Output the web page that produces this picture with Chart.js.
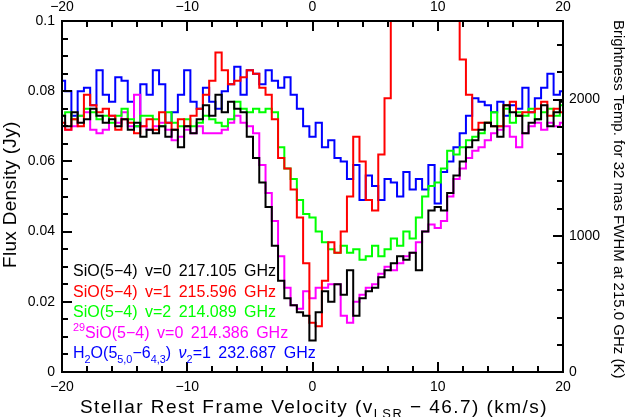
<!DOCTYPE html>
<html><head><meta charset="utf-8">
<script src="https://cdn.jsdelivr.net/npm/chart.js@4.4.1/dist/chart.umd.min.js"></script>
<style>html,body{margin:0;padding:0;background:#fff;}#wrap{width:626px;height:417px;}</style>
</head><body><div id="wrap"><canvas id="c" width="626" height="417"></canvas></div>
<script>
// Velocity channels (km/s), stellar rest frame
const velocity = [-20,-19.5,-19,-18.5,-18,-17.5,-17,-16.5,-16,-15.5,-15,-14.5,-14,-13.5,-13,-12.5,-12,-11.5,-11,-10.5,
  -10,-9.5,-9,-8.5,-8,-7.5,-7,-6.5,-6,-5.5,-5,-4.5,-4,-3.5,-3,-2.5,-2,-1.5,-1,-0.5,
  0,0.5,1,1.5,2,2.5,3,3.5,4,4.5,5,5.5,6,6.5,7,7.5,8,8.5,9,9.5,
  10,10.5,11,11.5,12,12.5,13,13.5,14,14.5,15,15.5,16,16.5,17,17.5,18,18.5,19,19.5,20];

// Flux density (Jy)
const sio_v0 = [0.073,0.070,0.074,0.071,0.072,0.075,0.073,0.071,0.072,0.070,0.072,0.069,0.071,0.067,0.069,0.068,0.070,0.067,0.069,0.064,
  0.070,0.068,0.072,0.076,0.073,0.079,0.074,0.077,0.075,0.074,0.067,0.061,0.054,0.047,0.036,0.026,0.021,0.019,0.017,0.016,
  0.009,0.017,0.023,0.020,0.025,0.022,0.029,0.016,0.021,0.023,0.024,0.027,0.029,0.031,0.033,0.032,0.034,0.029,0.040,0.046,
  0.047,0.046,0.051,0.056,0.060,0.064,0.066,0.069,0.071,0.070,0.067,0.076,0.074,0.073,0.068,0.071,0.072,0.076,0.070,0.074,0.077];
const sio_v1 = [0.071,0.069,0.072,0.070,0.079,0.076,0.074,0.075,0.073,0.069,0.072,0.071,0.068,0.070,0.072,0.069,0.074,0.071,0.069,0.072,
  0.070,0.073,0.075,0.079,0.083,0.091,0.086,0.082,0.083,0.084,0.086,0.085,0.081,0.079,0.072,0.061,0.058,0.052,0.044,0.031,
  0.014,0.013,0.026,0.037,0.034,0.040,0.050,0.067,0.060,0.049,0.046,0.062,0.078,0.105,0.130,0.130,0.130,0.130,0.130,0.130,
  0.130,0.130,0.130,0.105,0.089,0.079,0.069,0.071,0.071,0.070,0.070,0.076,0.077,0.073,0.074,0.074,0.075,0.077,0.073,0.075,0.074];
const sio_v2 = [0.073,0.074,0.072,0.073,0.075,0.074,0.072,0.073,0.071,0.073,0.075,0.072,0.070,0.073,0.073,0.072,0.070,0.074,0.071,0.070,
  0.072,0.070,0.071,0.073,0.072,0.071,0.070,0.072,0.077,0.075,0.074,0.075,0.074,0.075,0.074,0.064,0.058,0.055,0.049,0.045,
  0.044,0.040,0.037,0.035,0.034,0.036,0.034,0.035,0.032,0.033,0.036,0.033,0.035,0.038,0.036,0.040,0.038,0.044,0.050,0.053,
  0.054,0.058,0.063,0.062,0.064,0.066,0.067,0.068,0.071,0.074,0.070,0.075,0.071,0.074,0.073,0.075,0.072,0.074,0.075,0.073,0.076];
const si29o_v0 = [0.070,0.069,0.070,0.073,0.074,0.069,0.068,0.069,0.073,0.071,0.074,0.070,0.079,0.070,0.069,0.070,0.071,0.069,0.066,0.067,
  0.069,0.068,0.070,0.068,0.068,0.068,0.069,0.071,0.073,0.071,0.070,0.068,0.059,0.051,0.043,0.033,0.024,0.019,0.018,0.023,
  0.021,0.024,0.024,0.025,0.025,0.016,0.014,0.020,0.022,0.024,0.025,0.028,0.030,0.029,0.031,0.033,0.034,0.037,0.040,0.042,
  0.041,0.043,0.050,0.055,0.058,0.061,0.063,0.064,0.066,0.068,0.069,0.070,0.067,0.064,0.068,0.070,0.071,0.069,0.071,0.070,0.071];
const h2o_v2 = [0.083,0.080,0.073,0.080,0.081,0.076,0.086,0.079,0.077,0.084,0.083,0.077,0.070,0.082,0.079,0.086,0.082,0.071,0.074,0.079,
  0.086,0.077,0.075,0.081,0.077,0.075,0.080,0.082,0.087,0.079,0.086,0.085,0.082,0.086,0.083,0.081,0.084,0.079,0.075,0.070,
  0.067,0.071,0.064,0.066,0.061,0.060,0.055,0.059,0.049,0.056,0.053,0.049,0.055,0.054,0.050,0.057,0.052,0.055,0.052,0.059,
  0.048,0.057,0.060,0.064,0.068,0.073,0.078,0.077,0.076,0.074,0.077,0.073,0.076,0.075,0.081,0.074,0.078,0.081,0.085,0.079,0.080];

// Axis ticks and labels
const xTickValues = [-20,-18,-16,-14,-12,-10,-8,-6,-4,-2,0,2,4,6,8,10,12,14,16,18,20];
const xMajorTicks = [-20, -10, 0, 10, 20];
const yTickValues = [0,0.005,0.01,0.015,0.02,0.025,0.03,0.035,0.04,0.045,0.05,0.055,0.06,0.065,0.07,0.075,0.08,0.085,0.09,0.095,0.1];
const yMajorTicks = [0, 0.02, 0.04, 0.06, 0.08, 0.1];
const yTickText = ['0', '0.02', '0.04', '0.06', '0.08', '0.1'];
const tbTickValues = [0,200,400,600,800,1000,1200,1400,1600,1800,2000,2200,2400];
const tbMajorTicks = [0, 1000, 2000];
const JY_PER_1000K = 0.0388; // brightness temperature conversion (32 mas FWHM at 215 GHz)

const FONT = '"Liberation Sans", Arial, Helvetica, sans-serif';
const near = (a, b) => Math.abs(a - b) < 1e-7;

const series = [
  {name: 'SiO v=0', data: sio_v0, color: '#000000'},
  {name: 'SiO v=1', data: sio_v1, color: '#ff0000'},
  {name: 'SiO v=2', data: sio_v2, color: '#00ff00'},
  {name: '29SiO v=0', data: si29o_v0, color: '#ff00ff'},
  {name: 'H2O', data: h2o_v2, color: '#0000ff'}
];

// legend lines: word lists of rich segments
const legendLines = [
  {color: '#000000', words: [[{t:'SiO(5\u22124)'}], [{t:'v=0'}], [{t:'217.105'}], [{t:'GHz'}]]},
  {color: '#ff0000', words: [[{t:'SiO(5\u22124)'}], [{t:'v=1'}], [{t:'215.596'}], [{t:'GHz'}]]},
  {color: '#00ff00', words: [[{t:'SiO(5\u22124)'}], [{t:'v=2'}], [{t:'214.089'}], [{t:'GHz'}]]},
  {color: '#ff00ff', words: [[{t:'29', sup:true}, {t:'SiO(5\u22124)'}], [{t:'v=0'}], [{t:'214.386'}], [{t:'GHz'}]]},
  {color: '#0000ff', words: [[{t:'H'}, {t:'2', sub:true}, {t:'O(5'}, {t:'5,0', sub:true}, {t:'\u22126'}, {t:'4,3', sub:true}, {t:')'}],
                              [{t:'\u03bd', it:true}, {t:'2', sub:true}, {t:'=1'}], [{t:'232.687'}], [{t:'GHz'}]]}
];

function drawRich(ctx, x, y, segs, size) {
  let cx = x;
  for (const s of segs) {
    const small = s.sub || s.sup;
    const fs = small ? size * 0.68 : size;
    ctx.font = (s.it ? 'italic ' : '') + fs + 'px ' + FONT;
    const dy = s.sub ? size * 0.28 : (s.sup ? -size * 0.42 : 0);
    ctx.fillText(s.t, cx, y + dy);
    cx += ctx.measureText(s.t).width;
  }
  return cx - x;
}

const setTicks = vals => s => { s.ticks = vals.map(v => ({value: v})); };

const decor = {
  id: 'decor',
  afterDraw(chart) {
    const ctx = chart.ctx, a = chart.chartArea;
    ctx.save();
    ctx.strokeStyle = '#000';
    ctx.lineWidth = 2;
    const sx = chart.scales.x, sy = chart.scales.y, sy2 = chart.scales.y2;
    ctx.beginPath();
    sx.ticks.forEach(t => {
      const p = Math.round(sx.getPixelForValue(t.value));
      const len = xMajorTicks.some(m => near(m, t.value)) ? 10 : 6;
      ctx.moveTo(p, a.bottom); ctx.lineTo(p, a.bottom - len);
      ctx.moveTo(p, a.top); ctx.lineTo(p, a.top + len);
    });
    sy.ticks.forEach(t => {
      const p = Math.round(sy.getPixelForValue(t.value));
      const len = yMajorTicks.some(m => near(m, t.value)) ? 10 : 6;
      ctx.moveTo(a.left, p); ctx.lineTo(a.left + len, p);
    });
    sy2.ticks.forEach(t => {
      const p = Math.round(sy2.getPixelForValue(t.value));
      const len = tbMajorTicks.some(m => near(m, t.value)) ? 10 : 6;
      ctx.moveTo(a.right, p); ctx.lineTo(a.right - len, p);
    });
    ctx.stroke();
    ctx.lineWidth = 2;
    ctx.strokeRect(a.left, a.top, a.right - a.left, a.bottom - a.top);

    // legend
    ctx.textBaseline = 'alphabetic';
    ctx.textAlign = 'left';
    const lx = 73, ly0 = 276, dly = 20.6, lsize = 16, gap = 7.5;
    legendLines.forEach((ln, i) => {
      ctx.fillStyle = ln.color;
      let x = lx;
      ln.words.forEach(w => { x += drawRich(ctx, x, ly0 + i * dly, w, lsize) + gap; });
    });

    // axis titles
    ctx.fillStyle = '#000';
    try { ctx.letterSpacing = '1.45px'; } catch (e) {}
    drawRich(ctx, 80, 413, [{t:'Stellar Rest Frame Velocity (v'}, {t:'LSR', sub:true}, {t:' \u2212 46.7) (km/s)'}], 19);
    try { ctx.letterSpacing = '0.3px'; } catch (e) {}
    ctx.save();
    ctx.translate(16, 268);
    ctx.rotate(-Math.PI / 2);
    drawRich(ctx, 0, 0, [{t:'Flux Density (Jy)'}], 19);
    ctx.restore();
    try { ctx.letterSpacing = '0px'; } catch (e) {}
    ctx.save();
    ctx.translate(614, 20);
    ctx.rotate(Math.PI / 2);
    drawRich(ctx, 0, 0, [{t:'Brightness Temp. for 32 mas FWHM at 215.0 GHz (K)'}], 15);
    ctx.restore();
    ctx.restore();
  }
};

const tickFont = {family: FONT, size: 14};
const noGrid = {display: false, drawTicks: false};
const xLabel = v => xMajorTicks.some(m => near(m, v)) ? String(v).replace('-', '\u2212') : '';

new Chart(document.getElementById('c'), {
  type: 'line',
  data: {
    datasets: series.map(s => ({
      label: s.name,
      data: velocity.map((v, i) => ({x: v, y: s.data[i]})),
      borderColor: s.color,
      borderWidth: 2,
      pointRadius: 0,
      stepped: 'middle',
      fill: false,
      xAxisID: 'x', yAxisID: 'y'
    }))
  },
  options: {
    responsive: false,
    animation: false,
    devicePixelRatio: 1,
    layout: {padding: 0},
    plugins: {legend: {display: false}, tooltip: {enabled: false}, title: {display: false}},
    scales: {
      x: {type: 'linear', position: 'bottom', min: -20, max: 20,
          grid: noGrid, border: {display: false},
          afterBuildTicks: setTicks(xTickValues),
          ticks: {autoSkip: false, maxRotation: 0, padding: 7, color: '#000', font: tickFont, callback: xLabel},
          afterFit: s => { s.height = 45; }},
      x2: {type: 'linear', position: 'top', min: -20, max: 20,
          grid: noGrid, border: {display: false},
          afterBuildTicks: setTicks(xTickValues),
          ticks: {autoSkip: false, maxRotation: 0, padding: 5, color: '#000', font: tickFont, callback: xLabel},
          afterFit: s => { s.height = 21; }},
      y: {type: 'linear', position: 'left', min: 0, max: 0.1,
          grid: noGrid, border: {display: false},
          afterBuildTicks: setTicks(yTickValues),
          ticks: {autoSkip: false, padding: 7, color: '#000', font: tickFont,
                  callback: v => { const k = yMajorTicks.findIndex(m => near(m, v)); return k >= 0 ? yTickText[k] : ''; }},
          afterFit: s => { s.width = 62; }},
      y2: {type: 'linear', position: 'right', min: 0, max: 0.1 / JY_PER_1000K * 1000,
          grid: noGrid, border: {display: false},
          afterBuildTicks: setTicks(tbTickValues),
          ticks: {autoSkip: false, padding: 6, color: '#000', font: tickFont,
                  callback: v => tbMajorTicks.some(m => near(m, v)) ? String(v) : ''},
          afterFit: s => { s.width = 63; }}
    }
  },
  plugins: [decor]
});
</script>
</body></html>
